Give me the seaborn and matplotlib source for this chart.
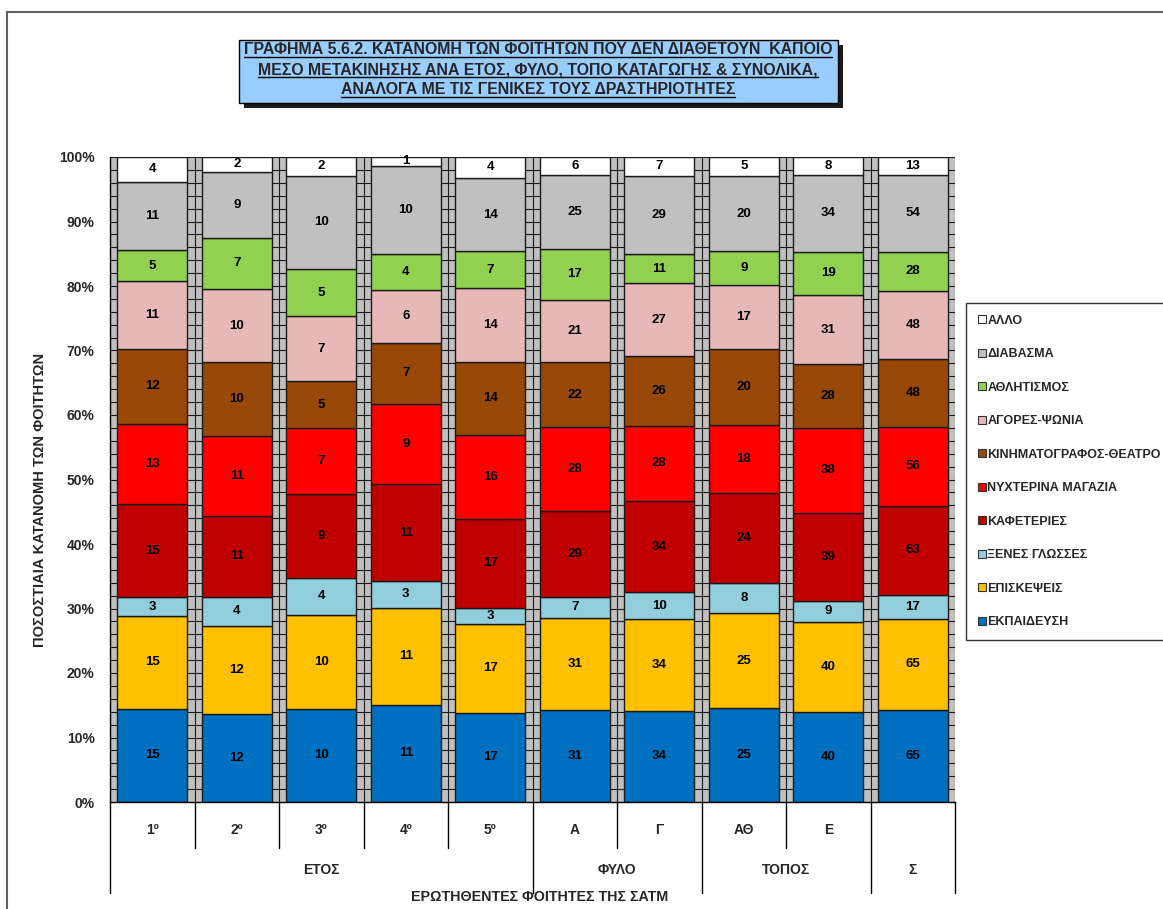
import numpy as np
import pandas as pd
import seaborn as sns
import matplotlib.pyplot as plt
import matplotlib.transforms as mtransforms
from matplotlib import font_manager
from matplotlib.lines import Line2D
from matplotlib.patches import Rectangle

# ---------------- data (counts) ----------------
categories = ['1º', '2º', '3º', '4º', '5º', 'Α', 'Γ', 'ΑΘ', 'Ε', '']
groups = ['ΕΤΟΣ', 'ΦΥΛΟ', 'ΤΟΠΟΣ', 'Σ']
group_sizes = [5, 2, 2, 1]

activities = ['ΕΚΠΑΙΔΕΥΣΗ', 'ΕΠΙΣΚΕΨΕΙΣ', 'ΞΕΝΕΣ ΓΛΩΣΣΕΣ', 'ΚΑΦΕΤΕΡΙΕΣ',
              'ΝΥΧΤΕΡΙΝΑ ΜΑΓΑΖΙΑ', 'ΚΙΝΗΜΑΤΟΓΡΑΦΟΣ-ΘΕΑΤΡΟ', 'ΑΓΟΡΕΣ-ΨΩΝΙΑ',
              'ΑΘΛΗΤΙΣΜΟΣ', 'ΔΙΑΒΑΣΜΑ', 'ΑΛΛΟ']

ekpaideysi = [15, 12, 10, 11, 17, 31, 34, 25, 40, 65]
episkepseis = [15, 12, 10, 11, 17, 31, 34, 25, 40, 65]
xenes_glosses = [3, 4, 4, 3, 3, 7, 10, 8, 9, 17]
kafeteries = [15, 11, 9, 11, 17, 29, 34, 24, 39, 63]
nyxterina = [13, 11, 7, 9, 16, 28, 28, 18, 38, 56]
kinimatografos = [12, 10, 5, 7, 14, 22, 26, 20, 28, 48]
agores = [11, 10, 7, 6, 14, 21, 27, 17, 31, 48]
athlitismos = [5, 7, 5, 4, 7, 17, 11, 9, 19, 28]
diavasma = [11, 9, 10, 10, 14, 25, 29, 20, 34, 54]
allo = [4, 2, 2, 1, 4, 6, 7, 5, 8, 13]

colors = ['#0070C0', '#FFC000', '#92CDDC', '#C00000', '#FF0000',
          '#984807', '#E6B9B8', '#92D050', '#C0C0C0', '#FFFFFF']

title_lines = ['ΓΡΑΦΗΜΑ 5.6.2. ΚΑΤΑΝΟΜΗ ΤΩΝ ΦΟΙΤΗΤΩΝ ΠΟΥ ΔΕΝ ΔΙΑΘΕΤΟΥΝ  ΚΑΠΟΙΟ',
               'ΜΕΣΟ ΜΕΤΑΚΙΝΗΣΗΣ ΑΝΑ ΕΤΟΣ, ΦΥΛΟ, ΤΟΠΟ ΚΑΤΑΓΩΓΗΣ & ΣΥΝΟΛΙΚΑ,',
               'ΑΝΑΛΟΓΑ ΜΕ ΤΙΣ ΓΕΝΙΚΕΣ ΤΟΥΣ ΔΡΑΣΤΗΡΙΟΤΗΤΕΣ']

series = [ekpaideysi, episkepseis, xenes_glosses, kafeteries, nyxterina,
          kinimatografos, agores, athlitismos, diavasma, allo]

rows = []
for act, vals in zip(activities, series):
    for i, v in enumerate(vals):
        rows.append({'pos': i, 'activity': act, 'count': v})
df = pd.DataFrame(rows)

#---------------- fonts ----------------
installed = {f.name for f in font_manager.fontManager.ttflist}
if 'Liberation Sans Narrow' in installed:
    narrow, nscale = 'Liberation Sans Narrow', 1.15
else:
    narrow, nscale = 'Liberation Sans', 1.0
regular = 'Liberation Sans'

#---------------- plot ----------------
sns.set_style('white')
plt.rcParams['font.family'] = [regular, 'DejaVu Sans']

W, H = 1163, 909
fig = plt.figure(figsize=(W / 100, H / 100), dpi=100)
ax = fig.add_axes([110 / W, 1 - 802 / H, (955 - 110) / W, (802 - 157) / H])
ax.set_facecolor('#C0C0C0')

sns.histplot(data=df, x='pos', hue='activity', weights='count',
             hue_order=activities[::-1],
             palette=dict(zip(activities, colors)),
             multiple='fill', discrete=True, shrink=0.83, alpha=1,
             edgecolor='#1a1a1a', linewidth=1, legend=False, ax=ax)

ax.set_xlim(-0.5, len(categories) - 0.5)
ax.set_ylim(0, 1)
ax.set_xlabel('')
ax.set_ylabel('')

# background grid: 2% horizontal lines + lines between bars
ax.set_yticks(np.arange(0, 1.001, 0.1))
ax.set_yticks(np.arange(0, 1.001, 0.02), minor=True)
ax.set_yticklabels([f'{int(round(v * 100))}%' for v in np.arange(0, 1.001, 0.1)],
                   fontsize=10, fontweight='bold')
ax.tick_params(axis='y', which='major', length=5, width=1, color='black', pad=6)
ax.tick_params(axis='y', which='minor', length=0)
ax.set_xticks(np.arange(-0.5, len(categories), 1))
ax.set_xticklabels([])
ax.tick_params(axis='x', length=0)
ax.yaxis.grid(True, which='both', color='#1a1a1a', lw=0.8)
ax.xaxis.grid(True, color='#1a1a1a', lw=0.8)
ax.set_axisbelow(True)

for s in ['top', 'right']:
    ax.spines[s].set_visible(False)
for s in ['left', 'bottom']:
    ax.spines[s].set_color('black')
    ax.spines[s].set_linewidth(1)

# value labels
totals = np.sum(series, axis=0)
for i in range(len(categories)):
    bottom = 0
    for vals in series:
        frac = vals[i] / totals[i]
        ax.text(i, bottom + frac / 2, str(vals[i]), ha='center', va='center',
                fontsize=9.5 * nscale, fontweight='bold', family=narrow, color='black')
        bottom += frac

# category table under the axis
trans = mtransforms.blended_transform_factory(ax.transData, ax.transAxes)
for i, c in enumerate(categories):
    ax.text(i, -0.043, c, transform=trans, ha='center', va='center',
            fontsize=10 * nscale, fontweight='bold', family=narrow)

edges = np.cumsum([0] + group_sizes) - 0.5
for k in range(len(categories) + 1):
    x = k - 0.5
    y_end = -0.141 if x in edges else -0.071
    ax.add_line(Line2D([x, x], [0, y_end], transform=trans, clip_on=False,
                       color='black', lw=1))
for g, a, b in zip(groups, edges[:-1], edges[1:]):
    ax.text((a + b) / 2, -0.105, g, transform=trans, ha='center', va='center',
            fontsize=10 * nscale, fontweight='bold', family=narrow)

fig.text(540 / W, 1 - 897 / H, 'ΕΡΩΤΗΘΕΝΤΕΣ ΦΟΙΤΗΤΕΣ ΤΗΣ ΣΑΤΜ', ha='center', va='center',
         fontsize=10.3 * nscale, fontweight='bold', family=narrow)
fig.text(40 / W, 1 - 500 / H, 'ΠΟΣΟΣΤΙΑΙΑ ΚΑΤΑΝΟΜΗ ΤΩΝ ΦΟΙΤΗΤΩΝ', rotation=90,
         ha='center', va='center', fontsize=10.5 * nscale, fontweight='bold', family=narrow)

# legend
handles = [Line2D([], [], marker='s', ls='none', markersize=6, markerfacecolor=c,
                  markeredgecolor='#333333', markeredgewidth=0.8)
           for c in colors[::-1]]
leg = fig.legend(handles, activities[::-1], loc='upper left',
                 bbox_to_anchor=(966 / W, 1 - 303 / H), borderaxespad=0,
                 frameon=True, fancybox=False, handlelength=0.6, handletextpad=0.15,
                 labelspacing=1.72, borderpad=0.95,
                 prop={'family': regular, 'weight': 'bold', 'size': 9})
leg.get_frame().set_edgecolor('black')
leg.get_frame().set_linewidth(1)

# outer chart border
fig.patches.append(Rectangle((7 / W, -0.1), 1.1, 1 - 12 / H + 0.1, transform=fig.transFigure,
                             fill=False, edgecolor='#606060', lw=1.5))

# title box with shadow
fig.patches.append(Rectangle((244 / W, 1 - 108 / H), (838 - 239) / W, 63 / H,
                             transform=fig.transFigure, facecolor='#1a1a1a', edgecolor='none'))
fig.patches.append(Rectangle((239 / W, 1 - 103 / H), (838 - 239) / W, 63 / H,
                             transform=fig.transFigure, facecolor='#99CCFF',
                             edgecolor='black', lw=1))
title_texts = []
for line, y in zip(title_lines, [50, 70, 90]):
    t = fig.text(538 / W, 1 - y / H, line, ha='center', va='center',
                 fontsize=11.4 * nscale, fontweight='bold', family=narrow)
    title_texts.append(t)

# underline the title lines
fig.canvas.draw()
renderer = fig.canvas.get_renderer()
for t in title_texts:
    bb = t.get_window_extent(renderer)
    yy = (bb.y0 + 1) / fig.bbox.height
    fig.add_artist(Line2D([bb.x0 / fig.bbox.width, bb.x1 / fig.bbox.width], [yy, yy],
                          transform=fig.transFigure, color='black', lw=1))

fig.savefig('out.png', dpi=100)
